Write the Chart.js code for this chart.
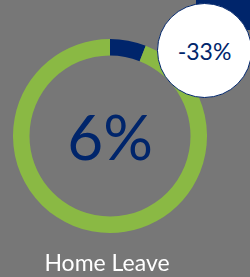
<!DOCTYPE html>
<html lang="en">
<head>
	<meta charset="UTF-8">
	<title>Home Leave</title>
	<script src="https://cdn.jsdelivr.net/npm/chart.js@4.4.0/dist/chart.umd.min.js"></script>
	<style>
		html, body { margin: 0; padding: 0; }
		body { width: 250px; height: 277px; background: #777777; overflow: hidden; position: relative; font-family: Lato, "Open Sans", sans-serif; }
		#canvas-container { position: absolute; left: 0; top: 0; width: 250px; height: 277px; }
		.corner { position: absolute; left: 196px; top: -20px; width: 80px; height: 50px; background: #00256b; }
		.badge { position: absolute; left: 157px; top: 3px; width: 95px; height: 95px; border-radius: 50%; background: #ffffff; border: 1.5px solid #00256b; box-sizing: border-box;
			display: flex; align-items: center; justify-content: center; color: #00256b; font-size: 23px; font-weight: 400; }
		.center-value { position: absolute; left: 10px; width: 200px; top: 98px; text-align: center; color: #00256b; font-size: 62px; font-weight: 400; line-height: 76px; }
		.title { position: absolute; left: 0; width: 214px; top: 248px; text-align: center; color: #ffffff; font-size: 23px; line-height: 28px; }
	</style>
</head>
<body>
	<div id="canvas-container">
		<canvas id="myChart" width="250" height="277"></canvas>
	</div>
	<div class="corner"></div>
	<div class="badge"><span id="change"></span></div>
	<div class="center-value" id="center-value"></div>
	<div class="title" id="title"></div>

	<script>
		const labels = ['Home Leave', 'Other']
		const values = [6, 94]
		const colors = ['#00256b', '#8ab944']
		const centerText = '6%'
		const changeText = '-33%'
		const titleText = 'Home Leave'

		document.getElementById('center-value').textContent = centerText
		document.getElementById('change').textContent = changeText
		document.getElementById('title').textContent = titleText

		var ctx = document.getElementById('myChart').getContext('2d')

		var chart = new Chart(ctx, {
			type: 'doughnut',
			data: {
				labels: labels,
				datasets: [{
					data: values,
					backgroundColor: colors,
					borderWidth: 0
				}]
			},
			options: {
				responsive: false,
				animation: false,
				cutout: '83%',
				layout: {
					padding: { left: 13, right: 43, top: 39, bottom: 44 }
				},
				plugins: {
					legend: { display: false },
					tooltip: { enabled: false }
				}
			}
		})
	</script>
</body>
</html>
